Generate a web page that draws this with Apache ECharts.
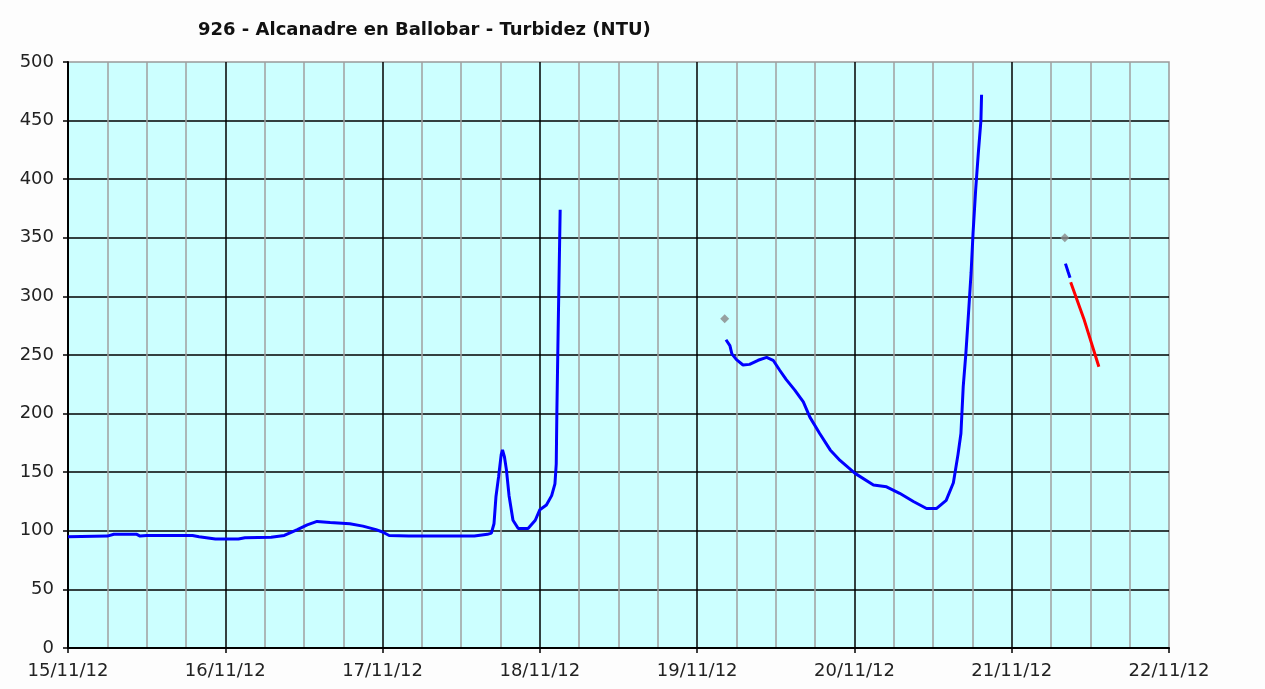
<!DOCTYPE html>
<html>
<head>
<meta charset="utf-8">
<script src="https://cdn.jsdelivr.net/npm/echarts@6/dist/echarts.min.js"></script>
<style>
  html, body { margin: 0; padding: 0; background: #fdfdfd; }
  #chart { width: 1265px; height: 689px; }
</style>
</head>
<body>
<div id="chart"></div>
<script>
    // etiquetas del eje X (un dia cada 24 h)
    let dayLabels = ['15/11/12', '16/11/12', '17/11/12', '18/11/12', '19/11/12', '20/11/12', '21/11/12', '22/11/12'];

    // horas desde 15/11/12 00:00 y turbidez (NTU); null = sin dato
    let blueHours = [0, 6, 7, 10.5, 11, 12, 19, 20, 22.5, 26, 27, 31, 33, 35, 36.5, 38, 40, 43, 45, 47, 48, 49, 52, 58, 62, 64, 64.6,
        65, 65.3, 65.7, 66.1, 66.3, 66.6, 66.9, 67.3, 67.9, 68.7, 70.2, 71.3, 72, 73, 73.8, 74.3, 74.5, 74.6, 74.8, 75.1,
        88,
        100.4, 101, 101.3, 102, 103, 104, 105.3, 106.6, 107.6, 108.6, 109.6, 110.9, 112.2, 113.2, 114.7, 116.3, 117.8, 120.1,
        122.9, 124.9, 126.9, 129, 131, 132.5, 134, 135.1, 135.8, 136.25, 136.6, 137, 137.4, 137.8, 138.1, 138.5, 138.9, 139.3, 139.4,
        146,
        152.2, 152.6, 152.9];
    let blueValues = [95, 95.5, 97, 97, 95.5, 96, 96, 95, 93, 93, 94, 94.5, 96, 101, 105, 108, 107, 106, 104, 101, 99, 96, 95.5, 95.5, 95.5, 97, 98,
        106, 129, 146, 165, 169, 163, 152, 130, 109, 102, 102, 109, 118, 122, 130, 140, 157, 203, 274, 374,
        null,
        263, 258, 251, 246, 241.5, 242, 245.5, 248, 245.5, 237, 229, 220, 210, 197, 183, 169, 160, 149,
        139, 137.5, 132, 125, 119, 119, 126, 141, 165, 183, 223, 251, 285, 320, 354, 391, 422, 450, 472,
        null,
        328, 321, 316];

    let redHours = [153, 155, 157.3];
    let redValues = [312, 281, 240];

    let greyHours = [100.2, 152.1];
    let greyValues = [281, 350];

    let yTicks = [0, 500, 50];

    function pares(h, v) {
        let arr = [];
        for (let i = 0; i < h.length; i++) {
            arr.push([h[i], v[i]]);
        }
        return arr;
    }

    let myChart = echarts.init(document.getElementById('chart'));
    let option = {
        animation: false,
        backgroundColor: '#fdfdfd',
        title: {
            text: '926 - Alcanadre en Ballobar - Turbidez (NTU)',
            left: 193,
            top: 16,
            textStyle: {
                fontFamily: 'DejaVu Sans',
                fontWeight: 'bold',
                fontSize: 18,
                color: '#111'
            }
        },
        grid: {
            left: 68,
            right: 96,
            top: 62,
            bottom: 41,
            show: true,
            backgroundColor: '#ccffff',
            borderColor: '#999',
            borderWidth: 1.5
        },
        xAxis: {
            type: 'value',
            min: 0,
            max: 168,
            interval: 24,
            axisLine: { show: true, onZero: false, lineStyle: { color: '#000', width: 2 } },
            axisTick: { show: true, length: 5, lineStyle: { color: '#000', width: 1.5 } },
            axisLabel: {
                margin: 14,
                fontFamily: 'DejaVu Sans',
                fontSize: 18,
                color: '#222',
                formatter: function (v) {
                    return dayLabels[Math.round(v / 24)];
                }
            },
            splitLine: { show: true, showMaxLine: false, lineStyle: { color: '#000', width: 1.5 } },
            minorTick: { show: false, splitNumber: 4 },
            minorSplitLine: { show: true, lineStyle: { color: '#a0a0a0', width: 1.5 } }
        },
        yAxis: {
            type: 'value',
            min: yTicks[0],
            max: yTicks[1],
            interval: yTicks[2],
            axisLine: { show: true, lineStyle: { color: '#000', width: 2 } },
            axisTick: { show: true, length: 5, lineStyle: { color: '#000', width: 1.5 } },
            axisLabel: {
                margin: 14,
                fontFamily: 'DejaVu Sans',
                fontSize: 18,
                color: '#222'
            },
            splitLine: { show: true, showMaxLine: false, lineStyle: { color: '#000', width: 1.5 } }
        },
        series: [
            {
                name: 'Turbidez',
                type: 'line',
                data: pares(blueHours, blueValues),
                showSymbol: false,
                connectNulls: false,
                lineStyle: { color: '#0000ff', width: 3 },
                itemStyle: { color: '#0000ff' },
                z: 3
            },
            {
                name: 'Prevision',
                type: 'line',
                data: pares(redHours, redValues),
                showSymbol: false,
                lineStyle: { color: '#ff0000', width: 3 },
                itemStyle: { color: '#ff0000' },
                z: 3
            },
            {
                name: 'Puntos',
                type: 'scatter',
                data: pares(greyHours, greyValues),
                symbol: 'diamond',
                symbolSize: 9,
                itemStyle: { color: '#888888' },
                z: 4
            }
        ]
    };

    // 使用刚指定的配置项和数据显示图表。
    myChart.setOption(option);
</script>
</body>
</html>
